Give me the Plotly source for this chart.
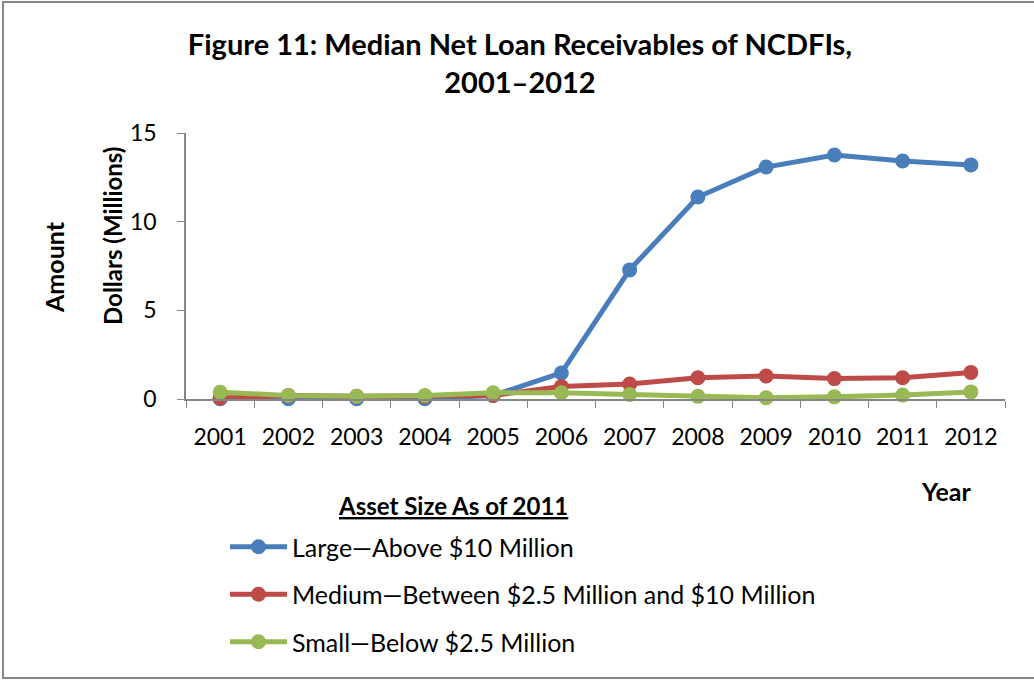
import plotly.graph_objects as go

years = ["2001", "2002", "2003", "2004", "2005", "2006", "2007", "2008", "2009", "2010", "2011", "2012"]
large = [0.02, 0.02, 0.02, 0.02, 0.2, 1.47, 7.28, 11.39, 13.08, 13.76, 13.42, 13.2]
medium = [0.05, 0.2, 0.15, 0.15, 0.2, 0.7, 0.85, 1.2, 1.3, 1.15, 1.2, 1.5]
small = [0.38, 0.2, 0.15, 0.2, 0.35, 0.35, 0.25, 0.15, 0.07, 0.12, 0.22, 0.4]

series_names = ["Large\u2014Above $10 Million",
                "Medium\u2014Between $2.5 Million and $10 Million",
                "Small\u2014Below $2.5 Million"]
colors = ["#4A7EBB", "#BE4B48", "#98B954"]

FONT = "Lato"
fig = go.Figure()
for i, (name, vals, c) in enumerate(zip(series_names, [large, medium, small], colors)):
    fig.add_trace(go.Scatter(
        x=years, y=vals, name=name, mode="lines+markers",
        line=dict(color=c, width=5), marker=dict(color=c, size=15),
        cliponaxis=False, legendgroup=f"g{i}"))

W, H = 1034, 680
L, R, T, B = 186, 29, 133, 281
pw, ph = W - L - R, H - T - B

def px(x):
    return (x - L) / pw

def py(y):
    return (H - B - y) / ph

fig.update_layout(
    width=W, height=H,
    margin=dict(l=L, r=R, t=T, b=B, autoexpand=False),
    paper_bgcolor="white", plot_bgcolor="white",
    font=dict(family=FONT, size=22, color="black"),
    title=dict(text="<b>Figure 11: Median Net Loan Receivables of NCDFIs,<br>2001\u20132012</b>",
               x=px(520), xref="paper", xanchor="center",
               y=1 - 55 / H, yref="container", yanchor="middle",
               font=dict(family=FONT, size=29, color="black")),
    xaxis=dict(type="category", tickson="boundaries", ticks="outside", ticklen=7,
               tickcolor="#868686", linecolor="#868686", linewidth=1.5, showline=True,
               showgrid=False, zeroline=False, tickfont=dict(size=23), range=[-0.5, 11.5],
               ticklabelstandoff=17),
    yaxis=dict(range=[0, 15], tickvals=[0, 5, 10, 15], ticks="outside", ticklen=7,
               tickcolor="#868686", linecolor="#868686", linewidth=1.5, showline=True,
               showgrid=False, zeroline=False, tickfont=dict(size=23),
               ticklabelstandoff=16),
    legend=dict(x=px(225), y=py(524), xanchor="left", yanchor="top",
                traceorder="grouped", tracegroupgap=12, itemwidth=57,
                font=dict(size=25, family=FONT)),
    showlegend=True,
)

fig.add_annotation(text="<b><u>Asset Size As of 2011</u></b>", xref="paper", yref="paper",
                   x=px(453), y=py(505), xanchor="center", yanchor="middle",
                   showarrow=False, font=dict(size=24, family=FONT))
fig.add_annotation(text="<b>Amount</b>", textangle=-90, xref="paper", yref="paper",
                   x=px(54), y=py(267), xanchor="center", yanchor="middle",
                   showarrow=False, font=dict(size=25, family=FONT))
fig.add_annotation(text="<b>Dollars (Millions)</b>", textangle=-90, xref="paper", yref="paper",
                   x=px(112), y=py(236), xanchor="center", yanchor="middle",
                   showarrow=False, font=dict(size=24, family=FONT))
fig.add_annotation(text="<b>Year</b>", xref="paper", yref="paper",
                   x=px(946), y=py(491), xanchor="center", yanchor="middle",
                   showarrow=False, font=dict(size=25, family=FONT))

fig.add_shape(type="rect", xref="paper", yref="paper",
              x0=px(3), x1=px(1040), y0=py(678), y1=py(2),
              line=dict(color="#868686", width=2), layer="below")

fig.write_html("out.html")
